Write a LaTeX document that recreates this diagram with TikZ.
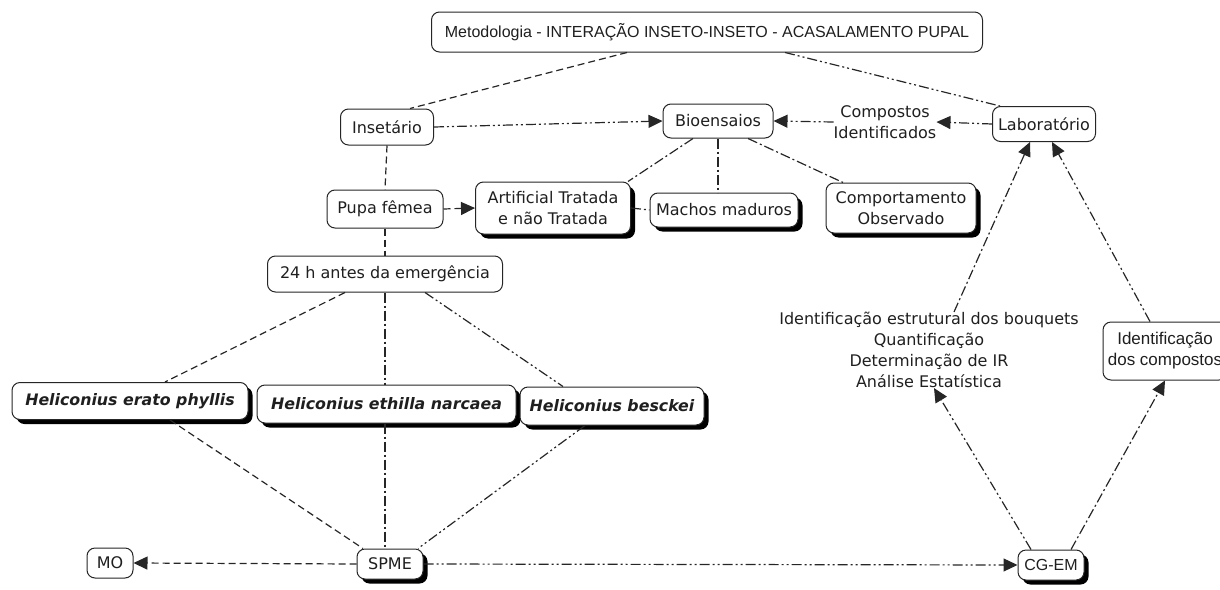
\documentclass[tikz,border=0pt]{standalone}
\usepackage{fontspec}
\setmainfont{DejaVu Sans}
\newfontfamily\arialf{Liberation Sans}
\usetikzlibrary{arrows.meta,shadows}
\begin{document}
\begin{tikzpicture}[x=1pt,y=-1pt,
  every node/.style={font=\fontsize{16}{21}\selectfont, align=center, inner sep=0pt, text=black!88},
  box/.style={draw=black!85, line width=1pt, rounded corners=8pt, fill=white},
  sbox/.style={box, drop shadow={shadow xshift=4.5pt, shadow yshift=-4.5pt, fill=black, opacity=1}},
  heli/.style={sbox, font=\fontsize{15.8}{20}\selectfont\bfseries\itshape},
  conn/.style={line width=1.2pt, draw=black!85},
  dsh/.style={conn, dash pattern=on 7pt off 4pt},
  dd/.style={conn, dash pattern=on 10pt off 3pt on 2pt off 3pt},
  ddd/.style={conn, dash pattern=on 10pt off 3pt on 2pt off 3pt on 2pt off 3pt},
  arr/.style={-{Triangle[length=14pt,width=13pt]}}
]
\useasboundingbox (0,0) rectangle (1220,589);

% nodes
\node[box, minimum width=551pt, minimum height=40pt, font=\arialf\fontsize{16}{20}\selectfont] (title) at (707,32) {Metodologia - INTERAÇÃO INSETO-INSETO - ACASALAMENTO PUPAL};
\node[box, minimum width=93pt, minimum height=36pt] (ins) at (387,127) {Insetário};
\node[box, minimum width=110pt, minimum height=34pt] (bio) at (718,121) {Bioensaios};
\node[box, minimum width=103pt, minimum height=35pt] (lab) at (1044,124) {Laboratório};
\node (comp) at (885,122) {Compostos\\Identificados};
\node[box, minimum width=116pt, minimum height=38pt] (pupa) at (385,209) {Pupa fêmea};
\node[sbox, minimum width=155pt, minimum height=52pt] (art) at (553,208) {Artificial Tratada\\e não Tratada};
\node[sbox, minimum width=148pt, minimum height=34pt] (mach) at (724,210) {Machos maduros};
\node[sbox, minimum width=150pt, minimum height=50pt] (comport) at (901,208) {Comportamento\\Observado};
\node[box, minimum width=235pt, minimum height=36pt] (h24) at (385,274) {24 h antes da emergência};
\node[heli, minimum width=236pt, minimum height=37pt] (erato) at (130,401) {Heliconius erato phyllis};
\node[heli, minimum width=259pt, minimum height=38pt] (ethilla) at (386.5,404) {Heliconius ethilla narcaea};
\node[heli, minimum width=184pt, minimum height=38pt] (besckei) at (612,406) {Heliconius besckei};
\node (idtext) at (929,350) {Identificação estrutural dos bouquets\\Quantificação\\Determinação de IR\\Análise Estatística};
\node[box, minimum width=124pt, minimum height=58pt, font=\arialf\fontsize{17}{21}\selectfont] (idc) at (1165,351) {Identificação\\dos compostos};
\node[sbox, minimum width=66pt, minimum height=30pt] (spme) at (390,564) {SPME};
\node[box, minimum width=46pt, minimum height=30pt] (mo) at (110,563) {MO};
\node[sbox, minimum width=66pt, minimum height=30pt, font=\arialf\fontsize{16}{20}\selectfont] (cgem) at (1051,565) {CG-EM};

% connectors
\draw[dsh] ([xshift=-80pt]title.south) -- ([xshift=23pt]ins.north);
\draw[ddd] ([xshift=78pt]title.south) -- ([xshift=-44pt]lab.north);
\draw[ddd,arr] (ins.east) -- (bio.west);
\draw[ddd,arr] (lab.west) -- (comp.east);
\draw[ddd,arr] (comp.west) -- (bio.east);
\draw[dsh] (ins.south) -- (pupa.north);
\draw[dsh,arr] (pupa.east) -- (art.west);
\draw[dd] ([xshift=-25pt]bio.south) -- ([xshift=-3pt]art.north east);
\draw[dd] (bio.south) -- (bio.south |- mach.north);
\draw[dd] ([xshift=30pt]bio.south) -- ([xshift=-58pt]comport.north);
\draw[dd] (art.east) -- (mach.west);
\draw[dsh] (pupa.south) -- (h24.north);
\draw[dsh] ([xshift=-40pt]h24.south) -- ([xshift=35pt]erato.north);
\draw[dd] (h24.south) -- (h24.south |- ethilla.north);
\draw[ddd] ([xshift=40pt]h24.south) -- ([xshift=-49pt]besckei.north);
\draw[dsh] ([xshift=40pt]erato.south) -- ([xshift=-27pt]spme.north);
\draw[dd] (h24.south |- ethilla.south) -- (h24.south |- spme.north);
\draw[ddd] ([xshift=-27pt]besckei.south) -- ([xshift=28pt]spme.north);
\draw[dsh,arr] (spme.west) -- (mo.east);
\draw[ddd,arr] (spme.east) -- (cgem.west);
\draw[ddd,arr] ([xshift=-20pt]cgem.north) -- ([xshift=5pt]idtext.south);
\draw[dd,arr] ([xshift=20pt]cgem.north) -- (idc.south);
\draw[dd,arr] ([xshift=25pt]idtext.north) -- ([xshift=-14pt]lab.south);
\draw[ddd,arr] ([xshift=-15pt]idc.north) -- ([xshift=8pt]lab.south);
\end{tikzpicture}
\end{document}
